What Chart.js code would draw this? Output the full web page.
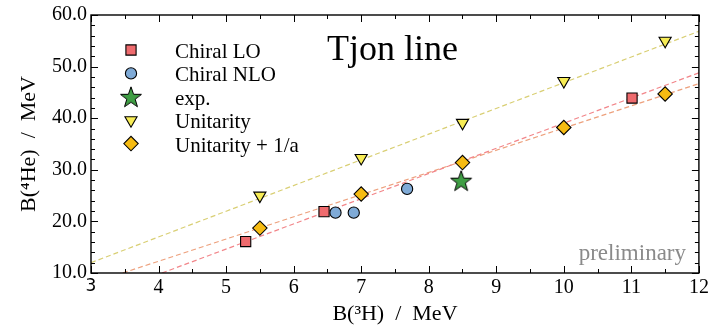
<!DOCTYPE html>
<html><head><meta charset="utf-8">
<script src="https://cdn.jsdelivr.net/npm/chart.js@4.4.1/dist/chart.umd.min.js"></script>
<style>html,body{margin:0;padding:0;background:#fff;} #wrap{width:710px;height:327px;position:relative}</style>
</head><body><div id="wrap"><canvas id="c" width="710" height="327"></canvas></div>
<script>
// ---- data ----
const xTicks = [3,4,5,6,7,8,9,10,11,12];
const yTicks = [10,20,30,40,50,60];
const loX  = [5.29, 6.45, 11.01];
const loY  = [16.1, 21.9, 43.9];
const nloX = [6.62, 6.89, 7.68];
const nloY = [21.7, 21.7, 26.3];
const expX = [8.48];
const expY = [27.9];
const uniX = [5.5, 7.0, 8.5, 10.0, 11.5];
const uniY = [25.0, 32.3, 39.1, 47.2, 55.0];
const uoaX = [5.5, 7.0, 8.5, 10.0, 11.5];
const uoaY = [18.7, 25.3, 31.4, 38.2, 44.7];
const fitUniX = [3, 12],    fitUniY = [12.0, 56.85];
const fitLoX  = [4.05, 12], fitLoY  = [10, 48.8];
const fitUoaX = [3.47, 12], fitUoaY = [10, 46.7];
const seriesNames = ['Chiral LO', 'Chiral NLO', 'exp.', 'Unitarity', 'Unitarity + 1/a'];

const pts = (xs, ys) => xs.map((x, i) => ({x, y: ys[i]}));

// star marker image
function makeStar(R, r, fill) {
  const s = Math.ceil(2 * R + 4);
  const cv = document.createElement('canvas');
  cv.width = s; cv.height = s;
  const c = cv.getContext('2d');
  const cx = s / 2, cy = s / 2 + 1;
  c.beginPath();
  for (let i = 0; i < 10; i++) {
    const a = -Math.PI / 2 + i * Math.PI / 5;
    const rr = i % 2 === 0 ? R : r;
    const px = cx + rr * Math.cos(a), py = cy + rr * Math.sin(a);
    if (i === 0) c.moveTo(px, py); else c.lineTo(px, py);
  }
  c.closePath();
  c.fillStyle = fill; c.fill();
  c.lineWidth = 1; c.strokeStyle = '#000'; c.stroke();
  return cv;
}
const starImg = makeStar(11, 4.4, '#3f9e44');

const SERIF = 'Liberation Serif';

const markerSets = [
  {label: seriesNames[0], data: pts(loX, loY), pointStyle: 'rect', pointRadius: 7.2, backgroundColor: '#ef6b6e', rotation: 0},
  {label: seriesNames[1], data: pts(nloX, nloY), pointStyle: 'circle', pointRadius: 5.6, backgroundColor: '#7faad6', rotation: 0},
  {label: seriesNames[2], data: pts(expX, expY), pointStyle: starImg, pointRadius: 10, backgroundColor: '#3f9e44', rotation: 0},
  {label: seriesNames[3], data: pts(uniX, uniY), pointStyle: 'triangle', pointRadius: 7, backgroundColor: '#f7ec55', rotation: 180},
  {label: seriesNames[4], data: pts(uoaX, uoaY), pointStyle: 'rectRot', pointRadius: 7.2, backgroundColor: '#f6bb12', rotation: 0},
];

const datasets = markerSets.map(m => ({
  type: 'scatter', label: m.label, data: m.data, order: 0,
  pointStyle: m.pointStyle, pointRadius: m.pointRadius, pointHoverRadius: m.pointRadius,
  pointRotation: m.rotation, backgroundColor: m.backgroundColor,
  borderColor: '#000', borderWidth: 1.1, showLine: false
}));

const lineSet = (xs, ys, color) => ({
  type: 'line', label: '', data: pts(xs, ys), order: 1,
  borderColor: color, borderWidth: 1.2, borderDash: [5, 3],
  pointRadius: 0, fill: false, tension: 0
});
datasets.push(lineSet(fitUniX, fitUniY, '#d9cf74'));
datasets.push(lineSet(fitLoX, fitLoY, '#f2868a'));
datasets.push(lineSet(fitUoaX, fitUoaY, '#eda07c'));

// ---- plugin: frame, inward ticks, legend, texts ----
const decor = {
  id: 'decor',
  afterDatasetsDraw(chart) {
    const ctx = chart.ctx, a = chart.chartArea;
    const xs = chart.scales.x, ys = chart.scales.y;
    ctx.save();
    ctx.strokeStyle = '#000';
    ctx.lineWidth = 1;
    ctx.beginPath();
    const maj = 7, mnr = 4;
    for (let v = 3; v <= 12.0001; v += 0.5) {
      const px = Math.round(xs.getPixelForValue(v)) + 0.5;
      const L = Math.abs(v - Math.round(v)) < 1e-6 ? maj : mnr;
      ctx.moveTo(px, a.bottom); ctx.lineTo(px, a.bottom - L);
      ctx.moveTo(px, a.top); ctx.lineTo(px, a.top + L);
    }
    for (let v = 10; v <= 60.0001; v += 2) {
      const py = Math.round(ys.getPixelForValue(v)) + 0.5;
      const L = Math.abs(v % 10) < 1e-6 ? maj : mnr;
      ctx.moveTo(a.left, py); ctx.lineTo(a.left + L, py);
      ctx.moveTo(a.right, py); ctx.lineTo(a.right - L, py);
    }
    ctx.stroke();
    ctx.lineWidth = 1.4;
    ctx.strokeRect(a.left, a.top, a.right - a.left, a.bottom - a.top);

    // legend
    const lx = 131, ty0 = 50, dy = 23.4;
    markerSets.forEach((m, i) => {
      const y = ty0 + i * dy;
      ctx.save();
      ctx.fillStyle = m.backgroundColor;
      ctx.strokeStyle = '#000';
      ctx.lineWidth = 1.1;
      Chart.helpers.drawPoint(ctx, {pointStyle: m.pointStyle, radius: m.pointRadius, rotation: m.rotation, borderWidth: 1.1}, lx, y);
      ctx.restore();
      ctx.fillStyle = '#000';
      ctx.font = '21px "' + SERIF + '"';
      ctx.textBaseline = 'alphabetic';
      ctx.textAlign = 'left';
      ctx.fillText(m.label, 175, y + 8);
    });

    // title text
    ctx.font = '36px "' + SERIF + '"';
    ctx.fillStyle = '#000';
    ctx.fillText('Tjon line', 327, 60);

    // preliminary
    ctx.font = '23px "' + SERIF + '"';
    ctx.fillStyle = '#8a8a8a';
    ctx.textAlign = 'right';
    ctx.fillText('preliminary', 686, 260);
    ctx.restore();
  }
};

new Chart(document.getElementById('c'), {
  data: {datasets},
  options: {
    responsive: false, animation: false,
    layout: {padding: {top: 15, right: 4, left: 0, bottom: 0}},
    plugins: {legend: {display: false}, tooltip: {enabled: false}},
    scales: {
      x: {
        type: 'linear', min: 3, max: 12,
        afterBuildTicks: s => { s.ticks = xTicks.map(v => ({value: v})); },
        afterFit: s => { s.height = 54; s.paddingLeft = 0; s.paddingRight = 0; },
        grid: {display: false, drawTicks: false, tickLength: 0}, border: {display: false},
        ticks: {
          color: '#000', padding: 3,
          font: c => (c.tick && c.tick.value === 3) ? {family: 'DejaVu Sans', size: 17} : {family: SERIF, size: 20},
          callback: v => String(v)
        },
        title: {display: true, text: 'B(³H)  /  MeV', color: '#000', font: {family: SERIF, size: 22}, padding: {top: 0, bottom: 0}}
      },
      y: {
        type: 'linear', min: 10, max: 60,
        afterBuildTicks: s => { s.ticks = yTicks.map(v => ({value: v})); },
        afterFit: s => { s.width = 91; s.paddingTop = 0; s.paddingBottom = 0; },
        grid: {display: false, drawTicks: false, tickLength: 0}, border: {display: false},
        ticks: {color: '#000', padding: 4, font: {family: SERIF, size: 20}, callback: v => Number(v).toFixed(1)},
        title: {display: true, text: 'B(⁴He)  /  MeV', color: '#000', font: {family: SERIF, size: 22}, padding: {top: 16, bottom: 0}}
      }
    }
  },
  plugins: [decor]
});
</script></body></html>
